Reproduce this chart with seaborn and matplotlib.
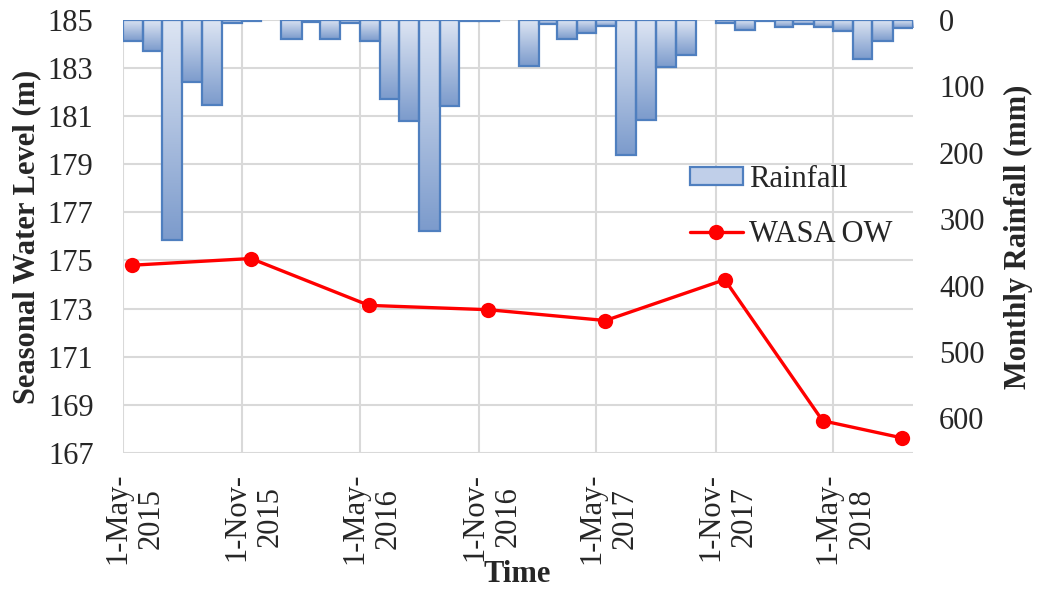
import numpy as np
import pandas as pd
import seaborn as sns
import matplotlib.pyplot as plt
import matplotlib.dates as mdates
from matplotlib.colors import LinearSegmentedColormap
from matplotlib.patches import Patch
from matplotlib.lines import Line2D
from matplotlib.transforms import ScaledTranslation

# monthly rainfall (mm), May 2015 - Aug 2018
rain_start = '2015-05-01'
rainfall = [32, 46, 331, 94, 128, 4, 1, 0, 29, 3, 29, 4,
            32, 119, 152, 318, 129, 1, 1, 0, 69, 6, 28, 20,
            9, 203, 150, 70, 52, 0, 5, 15, 1, 11, 6, 10,
            16, 59, 31, 12]

# seasonal water level at WASA observation well (m)
wasa_dates = ['2015-05-15', '2015-11-15', '2016-05-15', '2016-11-15',
              '2017-05-15', '2017-11-15', '2018-04-15', '2018-08-15']
wasa_level = [174.8, 175.08, 173.13, 172.95, 172.5, 174.2, 168.33, 167.62]

tick_dates = ['2015-05-01', '2015-11-01', '2016-05-01', '2016-11-01',
              '2017-05-01', '2017-11-01', '2018-05-01']
tick_labels = ['1-May-\n2015', '1-Nov-\n2015', '1-May-\n2016', '1-Nov-\n2016',
               '1-May-\n2017', '1-Nov-\n2017', '1-May-\n2018']

months = pd.date_range(rain_start, periods=len(rainfall), freq='MS')
month_ends = months + pd.offsets.MonthBegin(1)
rain = pd.DataFrame({'month': months, 'end': month_ends, 'rain': rainfall})
wasa = pd.DataFrame({'date': pd.to_datetime(wasa_dates), 'level': wasa_level})

sns.set_style('white')
plt.rcParams['font.family'] = ['Liberation Serif', 'DejaVu Serif']
plt.rcParams['font.size'] = 22

fig = plt.figure(figsize=(10.37, 5.91), dpi=100)
ax1 = fig.add_axes([0.1183, 0.234, 0.7618, 0.732])
ax2 = ax1.twinx()

grid_col = '#d9d9d9'
edge_col = '#4f7fbf'
grad = LinearSegmentedColormap.from_list('rain', ['#dde5f3', '#7c9bcc'])

# water level line
sns.lineplot(data=wasa, x='date', y='level', ax=ax1, color='#ff0000',
             marker='o', markersize=11, markeredgewidth=0, linewidth=2.4,
             zorder=5)

# rainfall bars hanging from the top, with gradient fill
x0 = mdates.date2num(rain['month'])
x1 = mdates.date2num(rain['end'])
for a, b, v in zip(x0, x1, rain['rain']):
    if v <= 0:
        continue
    bar = ax2.bar(a, v, width=b - a, align='edge', facecolor='none',
                  edgecolor=edge_col, linewidth=1.6, zorder=3)[0]
    img = ax2.imshow(np.linspace(0, 1, 128).reshape(-1, 1), cmap=grad,
                     extent=[a, b, v, 0], origin='upper', aspect='auto',
                     zorder=2)
    img.set_clip_path(bar)

ax1.set_ylim(167, 185)
ax1.set_yticks(np.arange(167, 186, 2))
ax2.set_ylim(652, 0)
ax2.set_yticks(np.arange(0, 601, 100))
xt = mdates.date2num(pd.to_datetime(tick_dates))
ax1.set_xlim(mdates.date2num(pd.Timestamp('2015-05-01')),
             mdates.date2num(pd.Timestamp('2018-09-01')))
ax1.set_xticks(xt)
ax1.set_xticklabels([])

# date labels, shifted a bit right of their gridline like the original
offset = ScaledTranslation(0.12, -0.2, fig.dpi_scale_trans)
for x, lab in zip(xt, tick_labels):
    ax1.text(x, 0, lab, rotation=90, ha='center', va='top', linespacing=1.2,
             transform=ax1.get_xaxis_transform() + offset, clip_on=False)

ax1.grid(True, color=grid_col, linewidth=1.5)
ax1.set_axisbelow(True)
for ax in (ax1, ax2):
    for s in ax.spines.values():
        s.set_visible(False)
ax1.tick_params(axis='y', length=0, pad=21)
ax1.tick_params(axis='x', length=0)
ax2.tick_params(axis='y', length=0, pad=19)

ax1.set_xlabel('')
ax1.set_ylabel('Seasonal Water Level (m)', fontweight='bold')
ax1.yaxis.set_label_coords(-0.103, 0.5)
ax2.set_ylabel('Monthly Rainfall (mm)', fontweight='bold')
ax2.yaxis.set_label_coords(1.115, 0.5)
fig.text(0.4985, 0.028, 'Time', fontweight='bold', ha='center', va='center')

handles = [Patch(facecolor='#c0cfe9', edgecolor=edge_col, linewidth=1.6),
           Line2D([], [], color='#ff0000', marker='o', markersize=11,
                  markeredgewidth=0, linewidth=2.4)]
fig.legend(handles, ['Rainfall', 'WASA OW'], loc='upper left',
           bbox_to_anchor=(0.6505, 0.747), frameon=False, borderpad=0,
           handlelength=1.73, handleheight=0.52, handletextpad=0.2,
           labelspacing=0.85)

fig.savefig('out.png', dpi=100)
